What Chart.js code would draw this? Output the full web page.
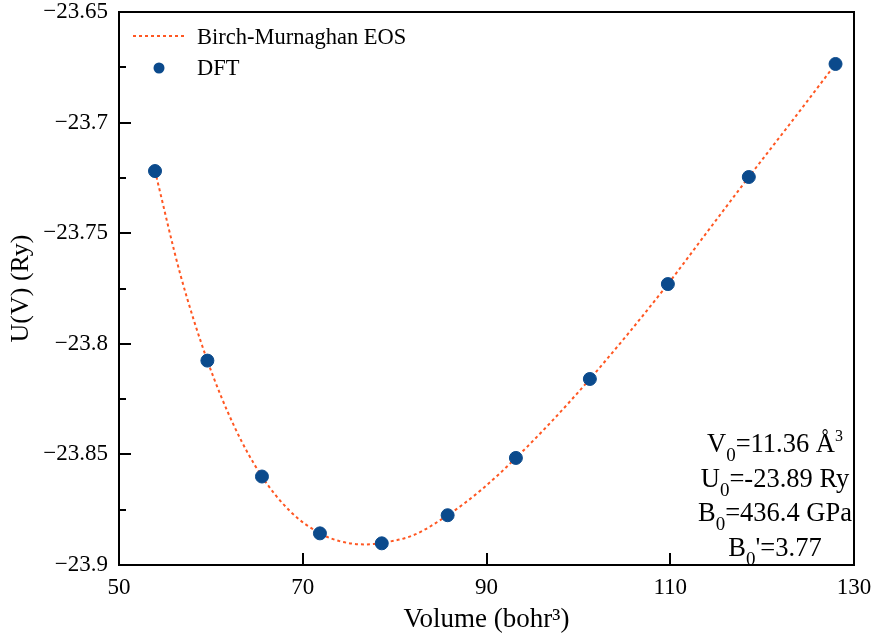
<!DOCTYPE html>
<html lang="en">

<head>
    <title>Birch-Murnaghan EOS fit</title>
    <meta charset="utf-8">
    <script src="https://cdn.jsdelivr.net/npm/chart.js"></script>
    <style>
        body {
            margin: 0;
            background: #fff;
        }
    </style>
</head>
<body>
    <canvas id="eoschart" width="872" height="637"></canvas>
    <script>
        // DFT total energies (Ry) against cell volume (bohr^3)
        const dftVolume = [53.92, 59.62, 65.56, 71.87, 78.6, 85.77, 93.2, 101.25, 109.74, 118.55, 127.99];
        const dftEnergy = [-23.7219, -23.8076, -23.8600, -23.8857, -23.8902, -23.8775, -23.8516, -23.8159, -23.7730, -23.7246, -23.6735];

        // fitted Birch-Murnaghan curve
        const fitVolume = [53.92, 56.7, 59.62, 62.6, 65.56, 68.7, 71.87, 74.0, 76.7, 78.6, 82.0, 85.77, 89.5, 93.2, 97.2, 101.25, 105.5, 109.74, 114.1, 118.55, 123.3, 127.99];
        const fitEnergy = [-23.7219, -23.7690, -23.8076, -23.8378, -23.8600, -23.8760, -23.8857, -23.8892, -23.8907, -23.8900, -23.8866, -23.8775, -23.8658, -23.8516, -23.8346, -23.8159, -23.7950, -23.7730, -23.7490, -23.7246, -23.6991, -23.6735];

        const xTicks = [50, 70, 90, 110, 130];
        const yTicks = [-23.9, -23.85, -23.8, -23.75, -23.7, -23.65];

        // fit parameters shown in the corner: [main, subscript, rest, superscript]
        const fitParams = [
            ['V', '0', '=11.36 \u00c5', '3'],
            ['U', '0', '=-23.89 Ry', ''],
            ['B', '0', '=436.4 GPa', ''],
            ['B', '0', '\'=3.77', '']
        ];

        const serif = 'Liberation Serif';
        const lineColor = '#ff5722';
        const dotColor = '#0b4a8c';

        const toPoints = (xs, ys) => xs.map((x, i) => ({ x: x, y: ys[i] }));

        // frame, inward ticks, legend and parameter box
        const decorations = {
            id: 'decorations',
            afterDatasetsDraw(chart) {
                const ctx = chart.ctx;
                const area = chart.chartArea;
                const xs = chart.scales.x;
                const ys = chart.scales.y;
                ctx.save();
                ctx.strokeStyle = '#000';
                ctx.lineWidth = 2;
                ctx.strokeRect(area.left, area.top, area.right - area.left, area.bottom - area.top);

                ctx.beginPath();
                xTicks.forEach(v => {
                    const px = Math.round(xs.getPixelForValue(v));
                    ctx.moveTo(px, area.bottom);
                    ctx.lineTo(px, area.bottom - 12);
                });
                yTicks.forEach((v, i) => {
                    const py = Math.round(ys.getPixelForValue(v));
                    ctx.moveTo(area.left, py);
                    ctx.lineTo(area.left + 12, py);
                    if (i < yTicks.length - 1) {
                        const pm = Math.round(ys.getPixelForValue((v + yTicks[i + 1]) / 2));
                        ctx.moveTo(area.left, pm);
                        ctx.lineTo(area.left + 7, pm);
                    }
                });
                ctx.stroke();
                ctx.restore();
            },
            afterDraw(chart) {
                const ctx = chart.ctx;
                const fit = chart.data.datasets[1];
                const dft = chart.data.datasets[0];
                ctx.save();

                // legend
                ctx.strokeStyle = fit.borderColor;
                ctx.lineWidth = fit.borderWidth;
                ctx.setLineDash(fit.borderDash);
                ctx.beginPath();
                ctx.moveTo(133, 36);
                ctx.lineTo(184, 36);
                ctx.stroke();
                ctx.setLineDash([]);
                ctx.fillStyle = dft.backgroundColor;
                ctx.beginPath();
                ctx.arc(159, 68, 5.5, 0, Math.PI * 2);
                ctx.fill();

                ctx.fillStyle = '#000';
                ctx.font = '22.5px "' + serif + '"';
                ctx.textBaseline = 'alphabetic';
                ctx.textAlign = 'left';
                ctx.fillText(fit.label, 197, 44);
                ctx.fillText(dft.label, 197, 75);

                // parameter box, lines centred
                const big = '26.5px "' + serif + '"';
                const small = '19px "' + serif + '"';
                const sup = '16px "' + serif + '"';
                const cx = 775;
                fitParams.forEach((row, i) => {
                    const base = 452 + i * 34.5;
                    ctx.font = big;
                    const w0 = ctx.measureText(row[0]).width;
                    const w2 = ctx.measureText(row[2]).width;
                    ctx.font = small;
                    const w1 = ctx.measureText(row[1]).width;
                    ctx.font = sup;
                    const w3 = row[3] ? ctx.measureText(row[3]).width : 0;
                    let x = cx - (w0 + w1 + w2 + w3) / 2;
                    ctx.font = big;
                    ctx.fillText(row[0], x, base);
                    x += w0;
                    ctx.font = small;
                    ctx.fillText(row[1], x, base + 9);
                    x += w1;
                    ctx.font = big;
                    ctx.fillText(row[2], x, base);
                    x += w2;
                    if (row[3]) {
                        ctx.font = sup;
                        ctx.fillText(row[3], x, base - 11);
                    }
                });
                ctx.restore();
            }
        };

        const data = {
            datasets: [{
                label: 'DFT',
                data: toPoints(dftVolume, dftEnergy),
                backgroundColor: dotColor,
                borderColor: dotColor,
                pointRadius: 6.5,
                pointHoverRadius: 6.5,
                order: 0
            }, {
                type: 'line',
                label: 'Birch-Murnaghan EOS',
                data: toPoints(fitVolume, fitEnergy),
                borderColor: lineColor,
                borderWidth: 2,
                borderDash: [3, 3],
                pointRadius: 0,
                fill: false,
                cubicInterpolationMode: 'monotone',
                order: 1
            }]
        };

        const config = {
            type: 'scatter',
            data: data,
            plugins: [decorations],
            options: {
                responsive: false,
                animation: false,
                layout: {
                    padding: { top: 12, right: 18, left: 0, bottom: 0 }
                },
                plugins: {
                    legend: { display: false },
                    tooltip: { enabled: false }
                },
                scales: {
                    x: {
                        type: 'linear',
                        min: 50,
                        max: 130,
                        afterBuildTicks: scale => { scale.ticks = xTicks.map(v => ({ value: v })); },
                        afterFit: scale => {
                            scale.height = 72;
                            scale.paddingLeft = 0;
                            scale.paddingRight = 0;
                        },
                        grid: { display: false, drawTicks: false },
                        border: { display: false },
                        ticks: {
                            autoSkip: false,
                            maxRotation: 0,
                            padding: 9,
                            color: '#000',
                            font: { family: serif, size: 23 }
                        },
                        title: {
                            display: true,
                            text: 'Volume (bohr\u00b3)',
                            color: '#000',
                            font: { family: serif, size: 27 },
                            padding: { top: 1, bottom: 1 }
                        }
                    },
                    y: {
                        type: 'linear',
                        min: -23.9,
                        max: -23.65,
                        afterBuildTicks: scale => { scale.ticks = yTicks.map(v => ({ value: v })); },
                        afterFit: scale => {
                            scale.width = 119;
                            scale.paddingTop = 0;
                            scale.paddingBottom = 0;
                        },
                        grid: { display: false, drawTicks: false },
                        border: { display: false },
                        ticks: {
                            autoSkip: false,
                            padding: 11,
                            color: '#000',
                            font: { family: serif, size: 23 },
                            callback: v => '\u2212' + Math.abs(v).toString()
                        },
                        title: {
                            display: true,
                            text: 'U(V) (Ry)',
                            color: '#000',
                            font: { family: serif, size: 26 },
                            padding: { top: 6, bottom: 6 }
                        }
                    }
                }
            }
        };

        const eosChart = new Chart(
            document.getElementById('eoschart'),
            config
        );
    </script>
</body>

</html>
